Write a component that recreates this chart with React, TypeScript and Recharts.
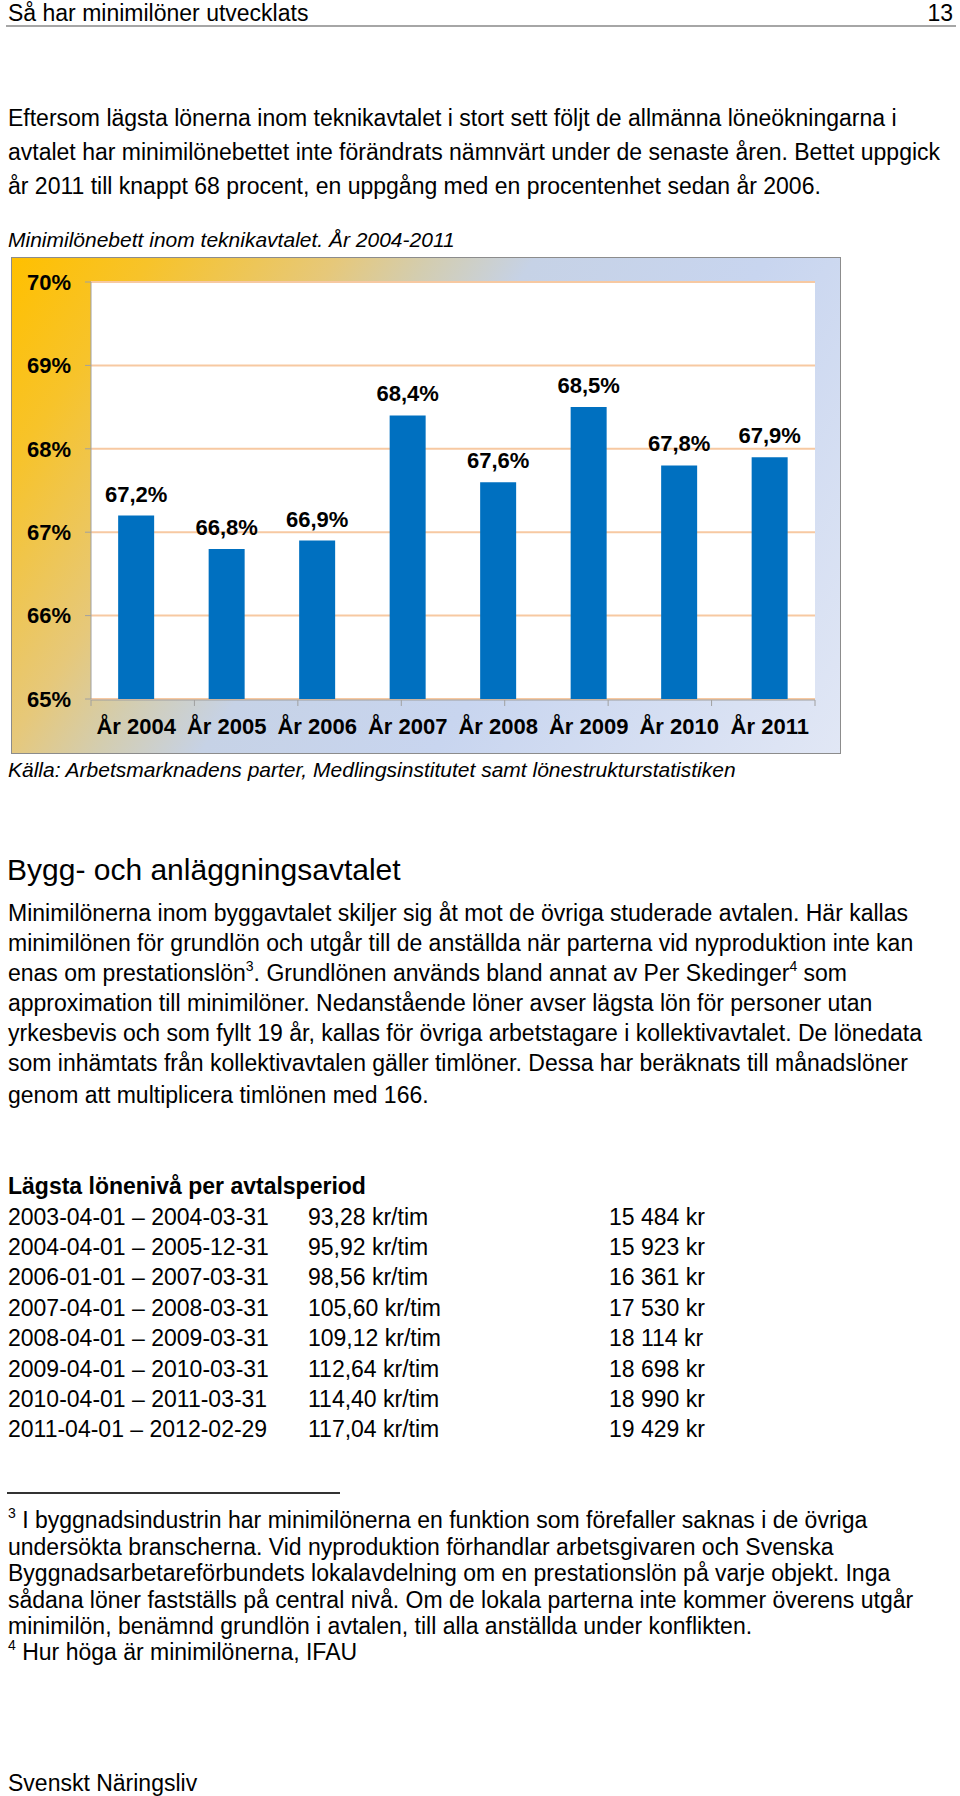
import React from 'react';
import { BarChart, Bar, XAxis, YAxis, CartesianGrid, LabelList } from 'recharts';

const years = ['År 2004', 'År 2005', 'År 2006', 'År 2007', 'År 2008', 'År 2009', 'År 2010', 'År 2011'];
const bettValues = [67.2, 66.8, 66.9, 68.4, 67.6, 68.5, 67.8, 67.9];
const yTicks = [65, 66, 67, 68, 69, 70];

const periods = [
  '2003-04-01 – 2004-03-31',
  '2004-04-01 – 2005-12-31',
  '2006-01-01 – 2007-03-31',
  '2007-04-01 – 2008-03-31',
  '2008-04-01 – 2009-03-31',
  '2009-04-01 – 2010-03-31',
  '2010-04-01 – 2011-03-31',
  '2011-04-01 – 2012-02-29',
];
const hourlyWages = ['93,28 kr/tim', '95,92 kr/tim', '98,56 kr/tim', '105,60 kr/tim', '109,12 kr/tim', '112,64 kr/tim', '114,40 kr/tim', '117,04 kr/tim'];
const monthlyWages = ['15 484 kr', '15 923 kr', '16 361 kr', '17 530 kr', '18 114 kr', '18 698 kr', '18 990 kr', '19 429 kr'];

const introLines = [
  'Eftersom lägsta lönerna inom teknikavtalet i stort sett följt de allmänna löneökningarna i',
  'avtalet har minimilönebettet inte förändrats nämnvärt under de senaste åren. Bettet uppgick',
  'år 2011 till knappt 68 procent, en uppgång med en procentenhet sedan år 2006.',
];

const chartData = years.map((year, i) => ({ year, value: bettValues[i] }));
const edgeTicks = [...years.map((_, i) => i), years.length];

const FONT = '"Liberation Sans", Arial, sans-serif';
const axisGrey = '#a0a0a0';

const Line: React.FC<{ x: number; cy: number; size?: number; lh?: number; style?: React.CSSProperties; children: React.ReactNode }> = ({
  x, cy, size = 23, lh = 26, style, children,
}) => (
  <div
    style={{
      position: 'absolute', left: x, top: cy - lh / 2, fontSize: size, lineHeight: `${lh}px`,
      whiteSpace: 'nowrap', ...style,
    }}
  >
    {children}
  </div>
);

const Sup: React.FC<{ children: React.ReactNode }> = ({ children }) => (
  <span style={{ fontSize: 14, position: 'relative', top: -10 }}>{children}</span>
);

const fmtPct = (v: number) => `${v.toFixed(1).replace('.', ',')}%`;

const BettChart = () => (
  <div
    style={{
      position: 'absolute', left: 11, top: 257, width: 830, height: 497, boxSizing: 'border-box',
      border: '1px solid #8c8c8c',
      background:
        'linear-gradient(124deg, #FFC000 0%, #F7C32A 12%, #E6C87A 28%, #D3CDB0 36%, #C6D2E6 45%, #C8D5EF 65%, #E1E7F5 100%)',
    }}
  >
    <BarChart
      width={828}
      height={495}
      data={chartData}
      margin={{ top: 24, right: 25, bottom: 52, left: 19 }}
      barCategoryGap="30%"
      style={{ fontFamily: FONT }}
    >
      <CartesianGrid
        xAxisId="cat"
        vertical={false}
        stroke="#F7C9A2"
        strokeWidth={2}
        fill="#ffffff"
        fillOpacity={1}
      />
      <XAxis
        xAxisId="cat"
        dataKey="year"
        height={1}
        interval={0}
        axisLine={false}
        tickLine={false}
        tickSize={6}
        tickMargin={13}
        tick={{ fill: '#000', fontSize: 22, fontWeight: 'bold' }}
      />
      <XAxis
        xAxisId="edges"
        type="number"
        domain={[0, years.length]}
        allowDataOverflow
        ticks={edgeTicks}
        height={1}
        tickSize={6}
        tickFormatter={() => ''}
        axisLine={{ stroke: axisGrey }}
        tickLine={{ stroke: axisGrey }}
      />
      <YAxis
        domain={[65, 70]}
        ticks={yTicks}
        width={60}
        tickSize={6}
        tickMargin={14}
        tickFormatter={(v: number) => `${v}%`}
        axisLine={{ stroke: axisGrey }}
        tickLine={{ stroke: axisGrey }}
        tick={{ fill: '#000', fontSize: 22, fontWeight: 'bold' }}
      />
      <Bar xAxisId="cat" dataKey="value" fill="#0070C0" isAnimationActive={false}>
        <LabelList
          dataKey="value"
          position="top"
          offset={14}
          formatter={(v: number) => fmtPct(v)}
          style={{ fill: '#000', fontSize: 22, fontWeight: 'bold' }}
        />
      </Bar>
    </BarChart>
  </div>
);

export default function App() {
  const rowCenters = [1217, 1247, 1277, 1308, 1338, 1369, 1399, 1429];
  return (
    <div
      style={{
        position: 'absolute', left: 0, top: 0, width: 960, height: 1796, background: '#fff',
        fontFamily: FONT, color: '#000', overflow: 'hidden',
      }}
    >
      <Line x={8} cy={13}>Så har minimilöner utvecklats</Line>
      <Line x={900} cy={13} style={{ width: 53, textAlign: 'right' }}>13</Line>
      <div style={{ position: 'absolute', left: 6, top: 25, width: 950, height: 2, background: '#a6a6a6' }} />

      {introLines.map((t, i) => (
        <Line key={i} x={8} cy={118 + i * 34}>{t}</Line>
      ))}

      <Line x={8} cy={240} size={21} style={{ fontStyle: 'italic' }}>
        Minimilönebett inom teknikavtalet. År 2004-2011
      </Line>

      <BettChart />

      <Line x={8} cy={770} size={21} style={{ fontStyle: 'italic' }}>
        Källa: Arbetsmarknadens parter, Medlingsinstitutet samt lönestrukturstatistiken
      </Line>

      <Line x={7} cy={870} size={30} lh={34}>Bygg- och anläggningsavtalet</Line>

      <Line x={8} cy={913}>Minimilönerna inom byggavtalet skiljer sig åt mot de övriga studerade avtalen. Här kallas</Line>
      <Line x={8} cy={943}>minimilönen för grundlön och utgår till de anställda när parterna vid nyproduktion inte kan</Line>
      <Line x={8} cy={973}>
        enas om prestationslön<Sup>3</Sup>. Grundlönen används bland annat av Per Skedinger<Sup>4</Sup> som
      </Line>
      <Line x={8} cy={1003}>approximation till minimilöner. Nedanstående löner avser lägsta lön för personer utan</Line>
      <Line x={8} cy={1033}>yrkesbevis och som fyllt 19 år, kallas för övriga arbetstagare i kollektivavtalet. De lönedata</Line>
      <Line x={8} cy={1063}>som inhämtats från kollektivavtalen gäller timlöner. Dessa har beräknats till månadslöner</Line>
      <Line x={8} cy={1095}>genom att multiplicera timlönen med 166.</Line>

      <Line x={8} cy={1186} style={{ fontWeight: 'bold' }}>Lägsta lönenivå per avtalsperiod</Line>
      {periods.map((p, i) => (
        <React.Fragment key={p}>
          <Line x={8} cy={rowCenters[i]}>{p}</Line>
          <Line x={308} cy={rowCenters[i]}>{hourlyWages[i]}</Line>
          <Line x={609} cy={rowCenters[i]}>{monthlyWages[i]}</Line>
        </React.Fragment>
      ))}

      <div style={{ position: 'absolute', left: 7, top: 1492, width: 333, height: 2, background: '#333' }} />
      <Line x={8} cy={1520}><Sup>3</Sup> I byggnadsindustrin har minimilönerna en funktion som förefaller saknas i de övriga</Line>
      <Line x={8} cy={1546.5}>undersökta branscherna. Vid nyproduktion förhandlar arbetsgivaren och Svenska</Line>
      <Line x={8} cy={1573}>Byggnadsarbetareförbundets lokalavdelning om en prestationslön på varje objekt. Inga</Line>
      <Line x={8} cy={1599.5}>sådana löner fastställs på central nivå. Om de lokala parterna inte kommer överens utgår</Line>
      <Line x={8} cy={1626}>minimilön, benämnd grundlön i avtalen, till alla anställda under konflikten.</Line>
      <Line x={8} cy={1652}><Sup>4</Sup> Hur höga är minimilönerna, IFAU</Line>

      <Line x={8} cy={1783}>Svenskt Näringsliv</Line>
    </div>
  );
}
